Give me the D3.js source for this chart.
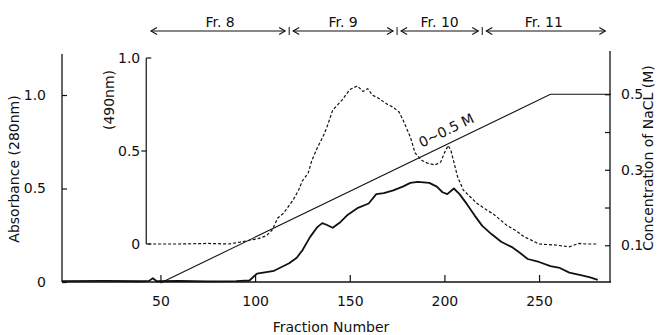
<!DOCTYPE html>
<html>
<head>
<meta charset="utf-8">
<script src="https://cdn.jsdelivr.net/npm/d3@7"></script>
<style>
  body { margin: 0; background: #fff; }
  svg { display: block; font-family: "DejaVu Sans", sans-serif; }
  text { fill: #111; }
</style>
</head>
<body>
<div id="chart"></div>
<script>
// fraction number vs absorbance at 280 nm (left axis)
const a280 = [[-2, 0.005], [20, 0.006], [40, 0.004], [44, 0.006], [46, 0.02], [48, 0.004], [60, 0.006],
  [75, 0.003], [90, 0.005], [97, 0.008], [101, 0.045], [110, 0.06], [118, 0.1], [122, 0.13], [125, 0.17],
  [129, 0.24], [133, 0.295], [135.5, 0.315], [138, 0.305], [141, 0.29], [145, 0.32], [149, 0.36], [154, 0.395],
  [160, 0.42], [164, 0.47], [168, 0.475], [173, 0.49], [178, 0.51], [182, 0.53], [186, 0.535], [192, 0.53],
  [196, 0.51], [199, 0.48], [201.5, 0.47], [205, 0.5], [208, 0.47], [212, 0.415], [216, 0.355], [220, 0.3],
  [225, 0.255], [230, 0.215], [236, 0.185], [240, 0.155], [244, 0.123], [250, 0.107], [256, 0.085],
  [261, 0.075], [266, 0.05], [272, 0.037], [277, 0.025], [281, 0.011]];

// fraction number vs absorbance at 490 nm (inset axis)
const a490 = [[43.5, 0], [60, 0], [75, 0.003], [86, 0], [92, 0.01], [97, 0.02], [102, 0.03], [106, 0.045],
  [109, 0.075], [112, 0.14], [115, 0.165], [120, 0.235], [123, 0.29], [125, 0.34], [128, 0.38], [130, 0.45],
  [133, 0.52], [136, 0.58], [138, 0.63], [141, 0.72], [146, 0.775], [150, 0.83], [154, 0.85], [157, 0.82],
  [159.5, 0.835], [162, 0.8], [165, 0.785], [170, 0.75], [173, 0.735], [176, 0.71], [178, 0.67], [182, 0.575],
  [184.5, 0.49], [188, 0.45], [191, 0.435], [195, 0.425], [198, 0.44], [200, 0.49], [202, 0.53], [203.5, 0.5],
  [205, 0.44], [207, 0.36], [210, 0.29], [214, 0.25], [217, 0.22], [222, 0.185], [226, 0.16], [233, 0.1],
  [238, 0.07], [242, 0.04], [250, 0.0], [258, -0.005], [266, -0.015], [271, 0.003], [275, 0], [281, 0]];

// NaCl gradient (right axis)
const nacl = [[50, 0], [256, 0.5], [288, 0.5]];
const gradientLabel = "0~0.5 M";

const fractionBands = [
  { name: "Fr. 8", from: 45, to: 118 },
  { name: "Fr. 9", from: 118, to: 175 },
  { name: "Fr. 10", from: 175, to: 220 },
  { name: "Fr. 11", from: 220, to: 285 }
];

const xTicks = [50, 100, 150, 200, 250];
const leftTicks = [0, 0.5, 1.0];
const insetTicks = [0, 0.5, 1.0];
const rightTicks = [0.1, 0.2, 0.3, 0.4, 0.5];
const rightLabels = [0.1, 0.3, 0.5];
const insetAxisAt = 42.5;

const width = 657, height = 335;
const svg = d3.select("#chart").append("svg")
  .attr("width", width)
  .attr("height", height);

const x = d3.scaleLinear().domain([-2, 288]).range([62, 611]);
const yLeft = d3.scaleLinear().domain([0, 1.23]).range([282, 52]);
const yInset = d3.scaleLinear().domain([0, 1]).range([244, 58]);
const yRight = d3.scaleLinear().domain([0, 0.612]).range([283, 52]);

const fmt = d => d === 0 ? "0" : d3.format(".1f")(d);

// bottom axis
const xAxis = svg.append("g")
  .attr("transform", `translate(0, ${yLeft(0)})`)
  .call(d3.axisBottom(x).tickValues(xTicks).tickSizeInner(-7).tickSizeOuter(0).tickPadding(14))
xAxis.select(".domain").remove();
svg.append("line")
  .attr("x1", x.range()[0]).attr("x2", x.range()[1])
  .attr("y1", yLeft(0)).attr("y2", yLeft(0))
  .attr("stroke", "#111").attr("stroke-width", 1.3);

// left axis
const leftAxis = svg.append("g")
  .attr("transform", `translate(${x.range()[0]}, 0)`)
  .call(d3.axisLeft(yLeft).tickValues(leftTicks).tickFormat(fmt).tickSizeInner(-5).tickSizeOuter(0).tickPadding(16))
leftAxis.select(".domain").remove();
svg.append("line")
  .attr("x1", x.range()[0]).attr("x2", x.range()[0])
  .attr("y1", yLeft.range()[0]).attr("y2", yLeft.range()[1] + 2)
  .attr("stroke", "#111").attr("stroke-width", 1.3);

// right axis
const rightAxis = svg.append("g")
  .attr("transform", `translate(${x.range()[1] - 1}, 0)`)
  .call(d3.axisRight(yRight).tickValues(rightTicks)
    .tickFormat(d => rightLabels.some(v => Math.abs(v - d) < 1e-9) ? fmt(d) : "")
    .tickSizeInner(-5).tickSizeOuter(0).tickPadding(11))
rightAxis.select(".domain").remove();
svg.append("line")
  .attr("x1", x.range()[1] - 1).attr("x2", x.range()[1] - 1)
  .attr("y1", yLeft(0)).attr("y2", yRight.range()[1] - 1)
  .attr("stroke", "#111").attr("stroke-width", 1.3);

// inset axis (490nm)
const xi = x(insetAxisAt);
svg.append("line")
  .attr("x1", xi).attr("x2", xi)
  .attr("y1", yInset(0)).attr("y2", yInset(1))
  .attr("stroke", "#111").attr("stroke-width", 1.2);
const insetTick = svg.append("g").selectAll("g")
  .data(insetTicks)
  .enter().append("g");
insetTick.append("line")
  .attr("x1", xi)
  .attr("x2", d => d === 0.5 ? xi - 5 : xi + 5)
  .attr("y1", d => yInset(d)).attr("y2", d => yInset(d))
  .attr("stroke", "#111").attr("stroke-width", 1.2);
insetTick.append("text")
  .attr("x", xi - 6)
  .attr("y", d => yInset(d))
  .attr("dy", "0.35em")
  .attr("text-anchor", "end")
  .attr("font-size", 14)
  .text(fmt);

svg.selectAll(".tick text").attr("font-size", 14).attr("font-family", "DejaVu Sans, sans-serif").attr("fill", "#111");
svg.selectAll(".tick line").attr("stroke", "#111").attr("stroke-width", 1.2);

// curves
const lineLeft = d3.line().x(d => x(d[0])).y(d => yLeft(d[1]));
const lineInset = d3.line().x(d => x(d[0])).y(d => yInset(d[1]));
const lineRight = d3.line().x(d => x(d[0])).y(d => yRight(d[1]));

svg.append("path")
  .datum(nacl)
  .attr("d", lineRight)
  .attr("fill", "none")
  .attr("stroke", "#111")
  .attr("stroke-width", 1.1);

svg.append("path")
  .datum(a490)
  .attr("d", lineInset)
  .attr("fill", "none")
  .attr("stroke", "#111")
  .attr("stroke-width", 1.2)
  .attr("stroke-dasharray", "3,2");

svg.append("path")
  .datum(a280)
  .attr("d", lineLeft)
  .attr("fill", "none")
  .attr("stroke", "#111")
  .attr("stroke-width", 1.8)
  .attr("stroke-linejoin", "round");

// gradient label along the line
const labelF = 204;
const labelC = nacl[0][1] + (labelF - nacl[0][0]) * (nacl[1][1] - nacl[0][1]) / (nacl[1][0] - nacl[0][0]);
const angle = Math.atan2(yRight(nacl[1][1]) - yRight(nacl[0][1]), x(nacl[1][0]) - x(nacl[0][0])) * 180 / Math.PI;
svg.append("text")
  .attr("transform", `translate(${x(labelF)}, ${yRight(labelC)}) rotate(${angle})`)
  .attr("dy", -8)
  .attr("text-anchor", "middle")
  .attr("font-size", 14)
  .text(gradientLabel);

// fraction bands with arrows
const arrowY = 31;
const band = svg.append("g").selectAll("g")
  .data(fractionBands)
  .enter().append("g");
const gapL = (d, i) => i === 0 ? 0 : 4;
const gapR = (d, i) => i === fractionBands.length - 1 ? 0 : 4;
band.append("line")
  .attr("x1", (d, i) => x(d.from) + gapL(d, i))
  .attr("x2", (d, i) => x(d.to) - gapR(d, i))
  .attr("y1", arrowY).attr("y2", arrowY)
  .attr("stroke", "#111").attr("stroke-width", 1.1);
band.append("path")
  .attr("d", (d, i) => {
    const l = x(d.from) + gapL(d, i), r = x(d.to) - gapR(d, i);
    return `M${l + 6},${arrowY - 3.5}L${l},${arrowY}L${l + 6},${arrowY + 3.5}` +
      `M${r - 6},${arrowY - 3.5}L${r},${arrowY}L${r - 6},${arrowY + 3.5}`;
  })
  .attr("fill", "none").attr("stroke", "#111").attr("stroke-width", 1.1);
band.append("text")
  .attr("x", d => x((d.from + d.to) / 2))
  .attr("y", 27)
  .attr("text-anchor", "middle")
  .attr("font-size", 14)
  .text(d => d.name);
svg.append("g").selectAll("line")
  .data(fractionBands.slice(1))
  .enter().append("line")
  .attr("x1", d => x(d.from)).attr("x2", d => x(d.from))
  .attr("y1", arrowY - 4).attr("y2", arrowY + 4)
  .attr("stroke", "#111").attr("stroke-width", 1);

// axis titles
svg.append("text")
  .attr("x", 331).attr("y", 332)
  .attr("text-anchor", "middle")
  .attr("font-size", 14)
  .text("Fraction Number");
svg.append("text")
  .attr("transform", "translate(19, 169) rotate(-90)")
  .attr("text-anchor", "middle")
  .attr("font-size", 14)
  .text("Absorbance (280nm)");
svg.append("text")
  .attr("transform", `translate(${xi - 32}, 100) rotate(-90)`)
  .attr("text-anchor", "middle")
  .attr("font-size", 14)
  .text("(490nm)");
svg.append("text")
  .attr("transform", "translate(653, 158) rotate(-90)")
  .attr("text-anchor", "middle")
  .attr("font-size", 14)
  .text("Concentration of NaCL (M)");
</script>
</body>
</html>
